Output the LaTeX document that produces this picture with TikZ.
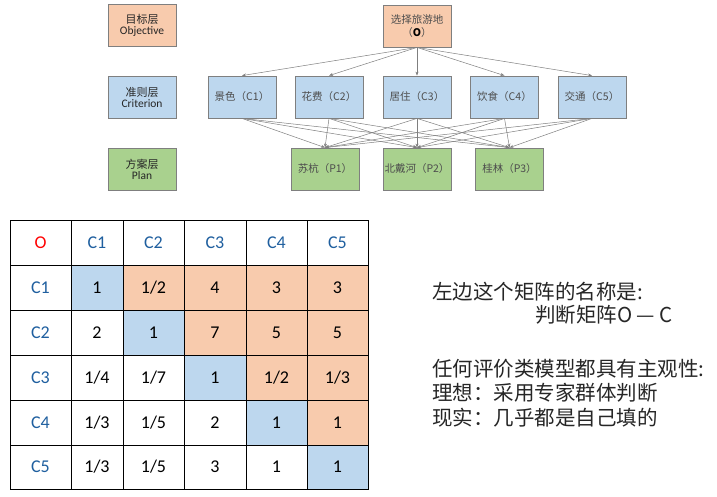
\documentclass[tikz,border=0pt]{standalone}
\usepackage{fontspec}
\setmainfont{Carlito}
\newfontfamily\cjk{Noto Sans CJK SC}
\usetikzlibrary{arrows.meta}
\definecolor{boxor}{HTML}{F8CBAD}
\definecolor{boxbl}{HTML}{BDD7EE}
\definecolor{boxgr}{HTML}{A9D18E}
\definecolor{boxline}{HTML}{7F7F7F}
\definecolor{tabor}{HTML}{F8CBAD}
\definecolor{tabbl}{HTML}{BDD7EE}
\definecolor{hdblue}{HTML}{1F5F9F}
\definecolor{txtgray}{HTML}{4D4D4D}
\tikzset{
  lvlbox/.style={draw=boxline, line width=0.8pt, minimum width=68pt, minimum height=42pt, inner sep=1pt, align=center, text=black!85},
  nodebox/.style={draw=boxline, line width=0.8pt, minimum width=68pt, minimum height=42pt, inner sep=1pt, align=center, text=txtgray, font=\cjk\fontsize{10.5}{13}\selectfont},
  arr/.style={draw=boxline, line width=0.5pt, -{Stealth[length=4pt,width=3pt]}},
  cell/.style={draw=black, line width=0.9pt, inner sep=0pt, font=\fontsize{18}{20}\selectfont},
  rtext/.style={anchor=west, inner sep=0pt, font=\cjk\fontsize{20.5}{24}\selectfont, text=black!85}
}
\begin{document}
\begin{tikzpicture}[x=1pt,y=-1pt]
\useasboundingbox (0,0) rectangle (717,496);
% level labels
\node[lvlbox, fill=boxor] (Lobj) at (142,25) {{\cjk\fontsize{11}{13}\selectfont 目标层}\\[-1pt]{\fontsize{11.5}{13}\selectfont Objective}};
\node[lvlbox, fill=boxbl] (Lcri) at (142,97) {{\cjk\fontsize{11}{13}\selectfont 准则层}\\[-1pt]{\fontsize{11.5}{13}\selectfont Criterion}};
\node[lvlbox, fill=boxgr] (Lpla) at (142,169) {{\cjk\fontsize{11}{13}\selectfont 方案层}\\[-1pt]{\fontsize{11.5}{13}\selectfont Plan}};
% hierarchy
\node[nodebox, fill=boxor] (O) at (417,26) {选择旅游地\\（\textcolor{black}{\textbf{O}}）};
\node[nodebox, fill=boxbl] (C1) at (242,97) {景色（C1）};
\node[nodebox, fill=boxbl] (C2) at (329,97) {花费（C2）};
\node[nodebox, fill=boxbl] (C3) at (417,97) {居住（C3）};
\node[nodebox, fill=boxbl] (C4) at (504.5,97) {饮食（C4）};
\node[nodebox, fill=boxbl] (C5) at (592,97) {交通（C5）};
\node[nodebox, fill=boxgr] (P1) at (325,169) {苏杭（P1）};
\node[nodebox, fill=boxgr] (P2) at (417,169) {北戴河（P2）};
\node[nodebox, fill=boxgr] (P3) at (509.5,169) {桂林（P3）};
\foreach \i in {1,...,5}{
  \draw[arr] (O.south) -- (C\i.north);
  \foreach \j in {1,2,3}{
    \draw[arr] (C\i.south) -- (P\j.north);
  }
}
% table
\def\tabtext{{"O","C1","C2","C3","C4","C5","C1","1","1/2","4","3","3","C2","2","1","7","5","5","C3","1/4","1/7","1","1/2","1/3","C4","1/3","1/5","2","1","1","C5","1/3","1/5","3","1","1"}}
\foreach \r/\y/\h in {0/242.5/45,1/287.5/45,2/332.5/45,3/377.5/45,4/422.5/45,5/467/44}{
  \foreach \c/\x/\w in {0/40.5/61,1/97/52,2/153.5/61,3/215/62,4/276.5/61,5/337.5/61}{
    \pgfmathtruncatemacro\idx{\r*6+\c}
    \pgfmathparse{\tabtext[\idx]}\let\txt\pgfmathresult
    \def\fc{white}\def\tc{black}
    \ifnum\r>0 \ifnum\c>\r \def\fc{tabor}\fi \ifnum\c=\r \def\fc{tabbl}\fi\fi
    \ifnum\r=0 \def\tc{hdblue}\fi
    \ifnum\c=0 \def\tc{hdblue}\fi
    \ifnum\idx=0 \def\tc{red}\fi
    \node[cell, fill=\fc, text=\tc, minimum width=\w pt, minimum height=\h pt] (t-\r-\c) at (\x,\y) {\txt};
  }
}
% right text
\node[rtext] (r1) at (432,292) {左边这个矩阵的名称是:};
\node[rtext] (r2) at (535,315) {判断矩阵O — C};
\node[rtext] (r3) at (432,368.5) {任何评价类模型都具有主观性:};
\node[rtext] (r4) at (432,392.5) {理想：采用专家群体判断};
\node[rtext] (r5) at (432,417.5) {现实：几乎都是自己填的};
\end{tikzpicture}
\end{document}
